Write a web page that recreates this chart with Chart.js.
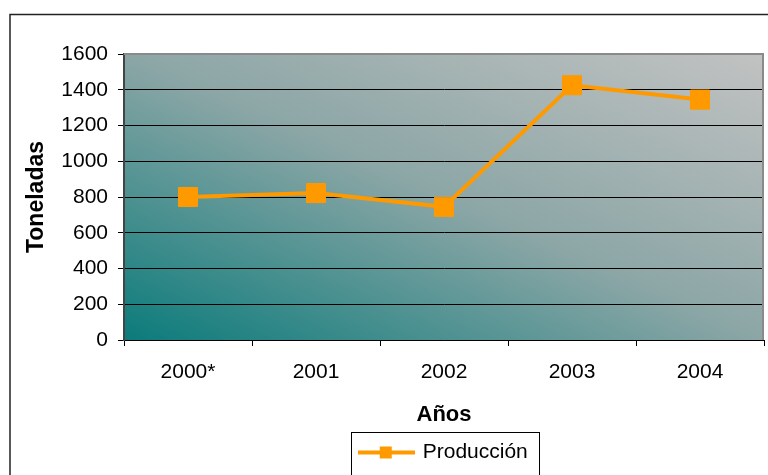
<!DOCTYPE html>
<html>
<head>
<meta charset="utf-8">
<script src="https://cdn.jsdelivr.net/npm/chart.js@4.4.1/dist/chart.umd.min.js"></script>
<style>
  html, body { margin: 0; padding: 0; background: #fff; }
  #wrap { width: 768px; height: 475px; position: relative; }
</style>
</head>
<body>
<div id="wrap"><canvas id="chart" width="768" height="475"></canvas></div>
<script>
// data
var years = ["2000*", "2001", "2002", "2003", "2004"];
var produccion = [800, 822, 745, 1425, 1345];
var yMax = 1600;
var yStep = 200;

var orange = "#ff9900";
var font = "'Liberation Sans', Arial, sans-serif";

// little line-with-square sample for the legend
function legendSample() {
	var c = document.createElement("canvas");
	c.width = 57;
	c.height = 14;
	var g = c.getContext("2d");
	g.strokeStyle = orange;
	g.lineWidth = 4;
	g.beginPath();
	g.moveTo(0, 7);
	g.lineTo(57, 7);
	g.stroke();
	g.fillStyle = orange;
	g.fillRect(22, 1, 12, 12);
	return c;
}
var sample = legendSample();

var decor = {
	id: "decor",
	beforeDraw: function(chart) {
		var ctx = chart.ctx;
		var a = chart.chartArea;
		// plot area gradient, stretched over the area like the original
		ctx.save();
		ctx.translate(a.left, a.top);
		ctx.scale(a.right - a.left, a.bottom - a.top);
		var gr = ctx.createLinearGradient(0, 1, 1, 0);
		gr.addColorStop(0, "#0b7b7b");
		gr.addColorStop(0.5, "#8ca6a6");
		gr.addColorStop(1, "#c2c2c2");
		ctx.fillStyle = gr;
		ctx.fillRect(0, 0, 1, 1);
		ctx.restore();
	},
	beforeDatasetsDraw: function(chart) {
		var ctx = chart.ctx;
		var a = chart.chartArea;
		ctx.save();
		ctx.strokeStyle = "#8a8a8a";
		ctx.lineWidth = 2;
		ctx.beginPath();
		ctx.moveTo(a.left, a.top);
		ctx.lineTo(a.right - 1, a.top);
		ctx.lineTo(a.right - 1, a.bottom);
		ctx.stroke();
		ctx.restore();
	},
	afterDraw: function(chart) {
		var ctx = chart.ctx;
		ctx.save();
		// outer chart frame
		ctx.strokeStyle = "#222";
		ctx.lineWidth = 1.5;
		ctx.strokeRect(10, 14.5, 800, 500);
		// legend frame
		var hb = chart.legend.legendHitBoxes[0];
		if (hb) {
			ctx.lineWidth = 1;
			ctx.strokeStyle = "#000";
			var cy = hb.top + hb.height / 2;
			ctx.strokeRect(Math.round(hb.left - 9) + 0.5, Math.round(cy - 21) + 0.5, Math.round(hb.width + 20), 60);
		}
		ctx.restore();
	}
};

new Chart(document.getElementById("chart"), {
	type: "line",
	data: {
		labels: years,
		datasets: [{
			label: "Producción",
			data: produccion,
			borderColor: orange,
			borderWidth: 4,
			backgroundColor: orange,
			pointStyle: "rect",
			pointRadius: 13.5,
			pointBorderWidth: 1,
			pointBackgroundColor: orange,
			pointBorderColor: orange,
			pointHoverRadius: 13.5,
			tension: 0,
			fill: false
		}]
	},
	options: {
		responsive: false,
		animation: false,
		devicePixelRatio: 1,
		events: [],
		layout: { autoPadding: false, padding: { top: 54, right: 4, bottom: 2, left: 0 } },
		plugins: {
			tooltip: { enabled: false },
			legend: {
				position: "bottom",
				fullSize: false,
				labels: {
					usePointStyle: true,
					pointStyleWidth: 52,
					boxHeight: 14,
					padding: 10,
					color: "#000",
					font: { family: font, size: 21 },
					generateLabels: function(chart) {
						var items = Chart.defaults.plugins.legend.labels.generateLabels(chart);
						items.forEach(function(it) { it.pointStyle = sample; });
						return items;
					}
				}
			}
		},
		scales: {
			x: {
				offset: true,
				afterFit: function(s) {
					s.height = 92;
					s.paddingLeft = 0;
					s.paddingRight = 0;
				},
				grid: {
					offset: true,
					drawOnChartArea: false,
					drawTicks: true,
					tickLength: 6,
					tickColor: "#000"
				},
				border: { display: true, color: "#000", width: 1 },
				ticks: {
					color: "#000",
					padding: 14,
					font: { family: font, size: 21 }
				},
				title: {
					display: true,
					text: "Años",
					color: "#000",
					padding: { top: 0, bottom: 4 },
					font: { family: font, size: 22, weight: "bold" }
				}
			},
			y: {
				min: 0,
				max: yMax,
				afterFit: function(s) { s.width = 124; },
				grid: {
					color: function(c) { return c.tick && c.tick.value === yMax ? "rgba(0,0,0,0)" : "#000"; },
					lineWidth: 1,
					tickLength: 6,
					tickColor: "#000"
				},
				border: { display: true, color: "#444", width: 2 },
				ticks: {
					stepSize: yStep,
					color: "#000",
					padding: 10,
					font: { family: font, size: 21 },
					callback: function(v) { return String(v); }
				},
				title: {
					display: true,
					text: "Toneladas",
					color: "#000",
					padding: { top: 23, bottom: 0 },
					font: { family: font, size: 23, weight: "bold" }
				}
			}
		}
	},
	plugins: [decor]
});
</script>
</body>
</html>
